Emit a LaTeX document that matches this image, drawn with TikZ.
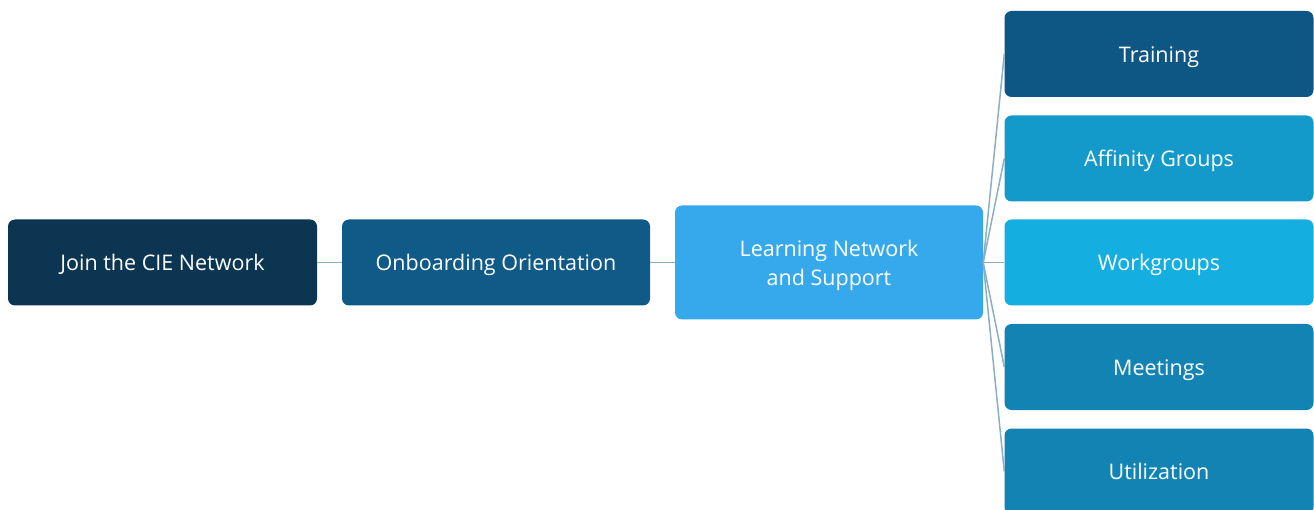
\documentclass[tikz,border=0pt]{standalone}
\usepackage{fontspec}
\setmainfont{Open Sans}
\newcommand{\boxlbl}[1]{\raisebox{-2.5pt}[\height][\depth]{\begin{tabular}{@{}c@{}}#1\end{tabular}}}
\begin{document}
\begin{tikzpicture}[x=1pt,y=-1pt,
  box/.style={rounded corners=7pt, text=white, font=\fontsize{21.5}{29}\selectfont, inner sep=0pt},
  link/.style={draw=lineblue, line width=1.5pt}]
\definecolor{cJoin}{HTML}{0B3551}
\definecolor{cOnb}{HTML}{0F5A87}
\definecolor{cLearn}{HTML}{36A9EC}
\definecolor{cTrain}{HTML}{0E5684}
\definecolor{cAff}{HTML}{139ACB}
\definecolor{cWork}{HTML}{14AEE0}
\definecolor{cMeet}{HTML}{1383B4}
\definecolor{lineblue}{HTML}{8AAFC0}
\useasboundingbox (0,0) rectangle (1314,510);
\begin{scope}
\clip (0,0) rectangle (1314,510);
\node[box, fill=cJoin, minimum width=309pt, minimum height=86pt] (join) at (162.5,262.5) {\boxlbl{Join the CIE Network}};
\node[box, fill=cOnb, minimum width=308pt, minimum height=86pt] (onb) at (496,262.5) {\boxlbl{Onboarding Orientation}};
\node[box, fill=cLearn, minimum width=308pt, minimum height=114pt] (learn) at (829,262.5) {\boxlbl{Learning Network\\and Support}};
\node[box, fill=cTrain, minimum width=309pt, minimum height=86pt] (train) at (1159,54) {\boxlbl{Training}};
\node[box, fill=cAff, minimum width=309pt, minimum height=86pt] (aff) at (1159,158.5) {\boxlbl{Affinity Groups}};
\node[box, fill=cWork, minimum width=309pt, minimum height=86pt] (work) at (1159,262.5) {\boxlbl{Workgroups}};
\node[box, fill=cMeet, minimum width=309pt, minimum height=86pt] (meet) at (1159,367) {\boxlbl{Meetings}};
\node[box, fill=cMeet, minimum width=309pt, minimum height=86pt] (util) at (1159,471.5) {\boxlbl{Utilization}};
\draw[link] (join.east) -- (onb.west);
\draw[link] (onb.east) -- (learn.west);
\foreach \t in {train,aff,work,meet,util}
  \draw[link] (learn.east) -- (\t.west);
\end{scope}
\end{tikzpicture}
\end{document}
